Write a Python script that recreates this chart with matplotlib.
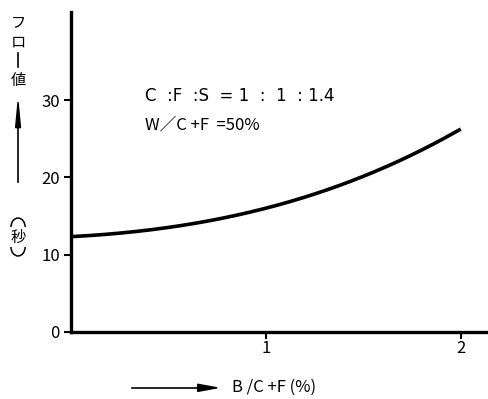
import numpy as np
import matplotlib.pyplot as plt
from matplotlib.patches import Arc

plt.rcParams['font.family'] = ['Noto Sans CJK JP', 'DejaVu Sans']

# datos
bcf = [0.0, 0.25, 0.5, 0.75, 1.0, 1.25, 1.5, 1.75, 2.0]
flow = [12.3, 12.8, 13.6, 14.6, 15.9, 17.8, 20.2, 23.0, 26.2]
xticks = [1, 2]
yticks = [0, 10, 20, 30]

fig = plt.figure(figsize=(4.88, 3.99), dpi=100)
ax = fig.add_axes([0.1455, 0.168, 0.8545, 0.802])

# curva suave entre los puntos leídos
xs = np.linspace(bcf[0], bcf[-1], 200)
coef = np.polyfit(bcf, flow, 3)
ax.plot(xs, np.polyval(coef, xs), color='black', lw=2.6, solid_capstyle='butt')

ax.set_xlim(0, 2.14)
ax.set_ylim(0, 41.4)
ax.set_xticks(xticks)
ax.set_yticks(yticks)
ax.tick_params(direction='out', length=5, width=1.5, labelsize=12, pad=3)
ax.tick_params(axis='x', pad=1)
for s in ['top', 'right']:
    ax.spines[s].set_visible(False)
for s in ['left', 'bottom']:
    ax.spines[s].set_linewidth(2.4)

ax.text(0.177, 0.7375, 'C  :F  :S  = 1  :  1  : 1.4', transform=ax.transAxes,
        fontsize=12, va='center', family='DejaVu Sans')
ax.text(0.177, 0.647, 'W／C +F  =50%', transform=ax.transAxes, fontsize=12,
        va='center')

# etiqueta eje y (vertical), un carácter por línea
for ch, yf in zip(['フ', 'ロ', '値'], [0.940, 0.895, 0.797]):
    fig.text(0.037, yf, ch, ha='center', va='center', fontsize=11)
fig.add_artist(plt.Line2D([0.037, 0.037], [0.833, 0.867], color='black', lw=1.2))
fig.text(0.037, 0.406, '秒', ha='center', va='center', fontsize=11)
# paréntesis verticales dibujados como arcos
fig.add_artist(Arc((0.037, 0.431), 0.029, 0.045, theta1=0, theta2=180,
                   transform=fig.transFigure, lw=1.1, color='black'))
fig.add_artist(Arc((0.037, 0.381), 0.029, 0.045, theta1=180, theta2=360,
                   transform=fig.transFigure, lw=1.1, color='black'))
fig.add_artist(plt.Line2D([0.037, 0.037], [0.544, 0.72], color='black', lw=1.2))
fig.add_artist(plt.Polygon([[0.032, 0.68], [0.042, 0.68], [0.037, 0.744]],
                           closed=True, color='black'))

# etiqueta eje x
fig.add_artist(plt.Line2D([0.270, 0.42], [0.028, 0.028], color='black', lw=1.2))
fig.add_artist(plt.Polygon([[0.405, 0.019], [0.405, 0.037], [0.445, 0.028]],
                           closed=True, color='black'))
fig.text(0.475, 0.03, 'B /C +F (%)', ha='left', va='center', fontsize=12)

fig.savefig('out.png', dpi=100)
